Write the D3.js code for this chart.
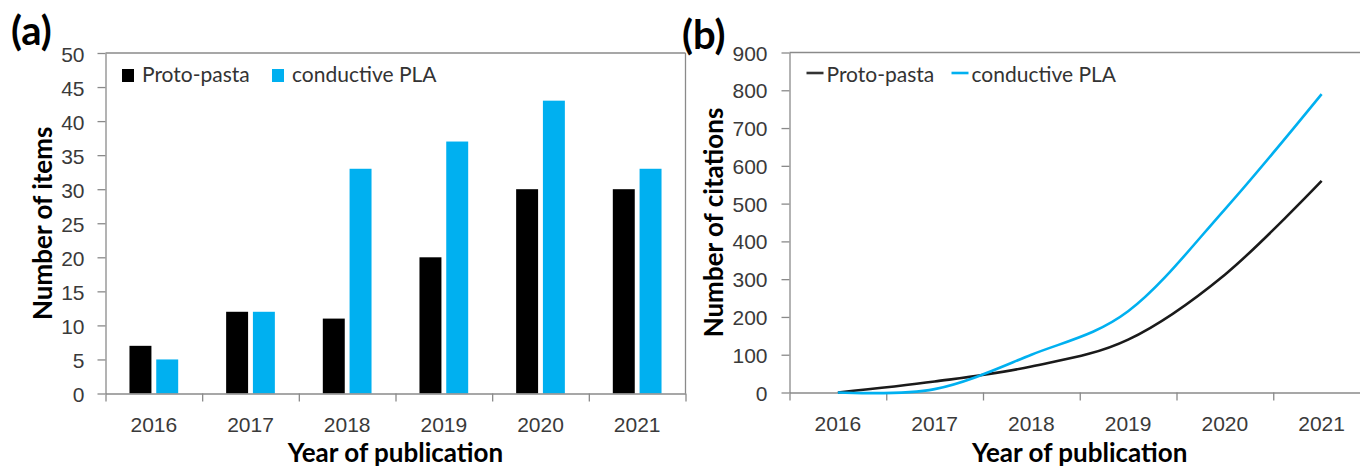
<!DOCTYPE html>
<html>
<head>
<meta charset="utf-8">
<script src="https://cdn.jsdelivr.net/npm/d3@7"></script>
<style>
  html, body { margin: 0; padding: 0; background: #fff; }
  svg { display: block; font-family: Lato, "Open Sans", sans-serif; }
  .tick text { fill: #3a3a3a; }
</style>
</head>
<body>
<svg id="chart" width="1360" height="470"></svg>
<script>
// ---- data ----
const years = ["2016", "2017", "2018", "2019", "2020", "2021"];
const seriesNames = ["Proto-pasta", "conductive PLA"];
const protoItems = [7, 12, 11, 20, 30, 30];
const plaItems = [5, 12, 33, 37, 43, 33];
const protoCitations = [0, 29, 69, 140, 312, 560];
const plaCitations = [0, 9, 100, 215, 485, 790];
const itemTicks = [0, 5, 10, 15, 20, 25, 30, 35, 40, 45, 50];
const citationTicks = [0, 100, 200, 300, 400, 500, 600, 700, 800, 900];

const colors = ["#000000", "#00b0f0"];
const lineColors = ["#1a1a1a", "#00b0f0"];
const axisColor = "#8a8a8a";
const tickFont = 21;
const titleFont = 26;

const svg = d3.select("#chart");

function styleAxis(g) {
  g.select(".domain").attr("stroke", axisColor).attr("stroke-width", 1.3);
  g.selectAll(".tick line").attr("stroke", axisColor).attr("stroke-width", 1.3);
}

// ================= Panel (a) =================
{
  const L = 105.5, R = 685.5, T = 53, B = 393.5;
  const g = svg.append("g");
  const x = d3.scaleBand().domain(years).range([L, R]).paddingInner(0).paddingOuter(0);
  const bw = x.bandwidth();
  const x1 = d3.scaleBand().domain([0, 1]).range([bw * 0.248, bw * 0.752]).paddingInner(0.18);
  const y = d3.scaleLinear().domain([0, 50]).range([B, T]);

  // frame (top and right)
  g.append("line").attr("x1", L).attr("x2", R).attr("y1", T).attr("y2", T).attr("stroke", axisColor).attr("stroke-width", 1.3);
  g.append("line").attr("x1", R).attr("x2", R).attr("y1", T).attr("y2", B).attr("stroke", axisColor).attr("stroke-width", 1.3);

  // bars
  const data = years.map((yr, i) => ({ yr, vals: [protoItems[i], plaItems[i]] }));
  const grp = g.selectAll("g.grp").data(data).join("g").attr("class", "grp")
    .attr("transform", d => `translate(${x(d.yr)},0)`);
  grp.selectAll("rect").data(d => d.vals.map((v, k) => ({ v, k }))).join("rect")
    .attr("x", d => x1(d.k)).attr("width", x1.bandwidth())
    .attr("y", d => y(d.v)).attr("height", d => y(0) - y(d.v))
    .attr("fill", d => colors[d.k]);

  // y axis
  const ya = g.append("g").attr("transform", `translate(${L},0)`)
    .call(d3.axisLeft(y).tickValues(itemTicks).tickSize(8).tickPadding(13).tickSizeOuter(0));
  styleAxis(ya);
  ya.selectAll(".tick text").attr("font-size", tickFont).attr("dy", "0.4em");

  // x axis: boundary ticks
  const xb = d3.scaleLinear().domain([0, years.length]).range([L, R]);
  const xa = g.append("g").attr("transform", `translate(0,${B})`)
    .call(d3.axisBottom(xb).tickValues(d3.range(0, years.length + 1)).tickSize(8).tickFormat("").tickSizeOuter(0));
  styleAxis(xa);
  const xl = g.append("g").attr("transform", `translate(0,${B})`)
    .call(d3.axisBottom(x).tickSize(0).tickPadding(0));
  xl.select(".domain").remove();
  xl.selectAll(".tick text").attr("font-size", tickFont).attr("dy", 0).attr("y", 38.5);

  // titles
  g.append("text").attr("x", (L + R) / 2).attr("y", 462).attr("text-anchor", "middle")
    .attr("font-weight", "bold").attr("font-size", titleFont).text("Year of publication");
  g.append("text").attr("transform", `translate(52,${(T + B) / 2}) rotate(-90)`).attr("text-anchor", "middle")
    .attr("font-weight", "bold").attr("font-size", titleFont).text("Number of items");
  g.append("text").attr("x", 11).attr("y", 45).attr("font-weight", "bold").attr("font-size", 40).text("(a)");

  // legend
  const leg = g.append("g");
  const lx = [122, 272];
  seriesNames.forEach((n, k) => {
    leg.append("rect").attr("x", lx[k]).attr("y", 69).attr("width", 12).attr("height", 13).attr("fill", colors[k]);
    leg.append("text").attr("x", lx[k] + 20).attr("y", 82).attr("font-size", tickFont).attr("fill", "#333").text(n);
  });
}

// ================= Panel (b) =================
{
  const L = 789.5, R = 1370, T = 52.5, B = 392.5;
  const g = svg.append("g");
  const x = d3.scaleBand().domain(years).range([L, R]).paddingInner(0).paddingOuter(0);
  const xc = d => x(d) + x.bandwidth() / 2;
  const y = d3.scaleLinear().domain([0, 900]).range([B, T]);

  g.append("line").attr("x1", L).attr("x2", R).attr("y1", T).attr("y2", T).attr("stroke", axisColor).attr("stroke-width", 1.3);

  const ya = g.append("g").attr("transform", `translate(${L},0)`)
    .call(d3.axisLeft(y).tickValues(citationTicks).tickSize(8).tickPadding(14).tickSizeOuter(0));
  styleAxis(ya);
  ya.selectAll(".tick text").attr("font-size", tickFont).attr("dy", "0.36em");

  const xb = d3.scaleLinear().domain([0, years.length]).range([L, R]);
  const xa = g.append("g").attr("transform", `translate(0,${B})`)
    .call(d3.axisBottom(xb).tickValues(d3.range(0, years.length + 1)).tickSize(8).tickFormat("").tickSizeOuter(0));
  styleAxis(xa);
  const xl = g.append("g").attr("transform", `translate(0,${B})`)
    .call(d3.axisBottom(x).tickSize(0).tickPadding(0));
  xl.select(".domain").remove();
  xl.selectAll(".tick text").attr("font-size", tickFont).attr("dy", 0).attr("y", 38.5);

  const line = d3.line().x((d, i) => xc(years[i])).y(d => y(d)).curve(d3.curveCardinal.tension(0));
  [protoCitations, plaCitations].forEach((s, k) => {
    g.append("path").attr("d", line(s)).attr("fill", "none").attr("stroke", lineColors[k]).attr("stroke-width", 2.6);
  });

  g.append("text").attr("x", (L + R) / 2).attr("y", 462).attr("text-anchor", "middle")
    .attr("font-weight", "bold").attr("font-size", titleFont).text("Year of publication");
  g.append("text").attr("transform", `translate(723,${(T + B) / 2}) rotate(-90)`).attr("text-anchor", "middle")
    .attr("font-weight", "bold").attr("font-size", titleFont).text("Number of citations");
  g.append("text").attr("x", 682).attr("y", 49).attr("font-weight", "bold").attr("font-size", 40).text("(b)");

  const lx = [806.5, 951.5];
  seriesNames.forEach((n, k) => {
    g.append("line").attr("x1", lx[k]).attr("x2", lx[k] + 17).attr("y1", 73).attr("y2", 73)
      .attr("stroke", k === 0 ? "#333" : lineColors[k]).attr("stroke-width", 2.6);
    g.append("text").attr("x", lx[k] + 20).attr("y", 82).attr("font-size", tickFont).attr("fill", "#333").text(n);
  });
}
</script>
</body>
</html>
